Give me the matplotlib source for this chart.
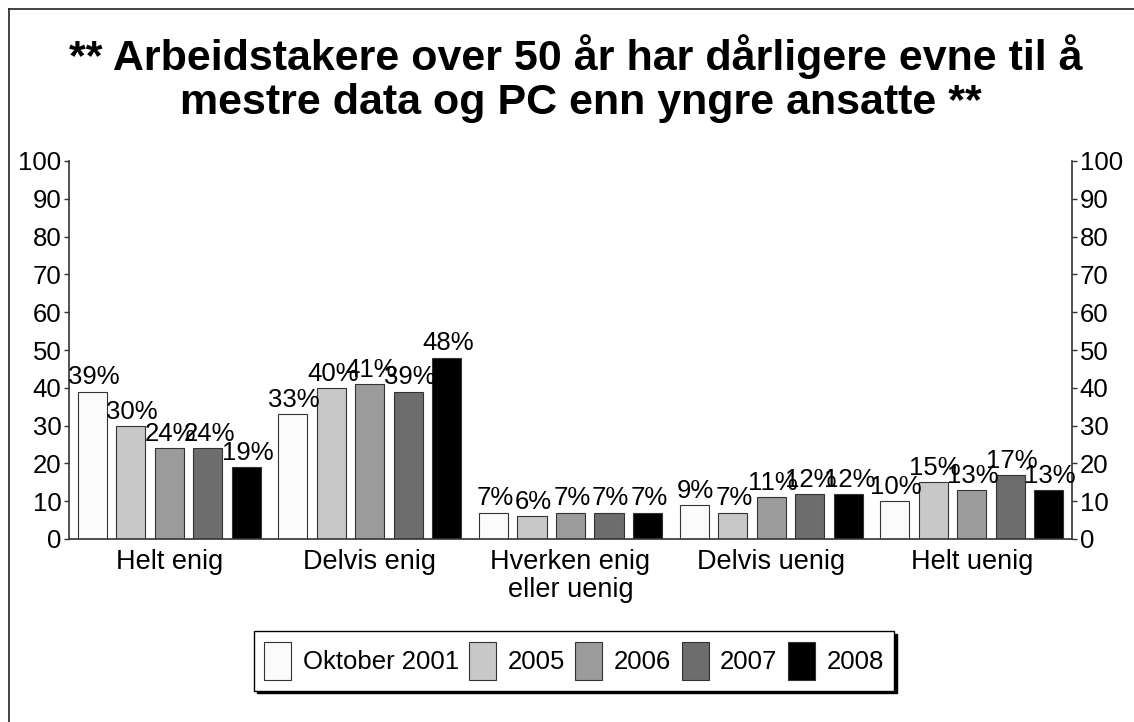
import matplotlib
matplotlib.use("Agg")
import matplotlib.pyplot as plt
from matplotlib.lines import Line2D
import numpy as np

plt.rcParams['font.family'] = ['Liberation Sans', 'DejaVu Sans']

# Survey answers and yearly shares (%)
categories = ["Helt enig", "Delvis enig", "Hverken enig\neller uenig", "Delvis uenig", "Helt uenig"]
series_names = ["Oktober 2001", "2005", "2006", "2007", "2008"]
oct_2001 = [39, 33, 7, 9, 10]
y2005 = [30, 40, 6, 7, 15]
y2006 = [24, 41, 7, 11, 13]
y2007 = [24, 39, 7, 12, 17]
y2008 = [19, 48, 7, 12, 13]
yticks = [0, 10, 20, 30, 40, 50, 60, 70, 80, 90, 100]
title_lines = ["** Arbeidstakere over 50 år har dårligere evne til å",
               "mestre data og PC enn yngre ansatte **"]

series = [oct_2001, y2005, y2006, y2007, y2008]
colors = ["#fbfbfb", "#c8c8c8", "#9b9b9b", "#6d6d6d", "#000000"]

W, H = 1134, 722
fig = plt.figure(figsize=(W / 100, H / 100), dpi=100)
fig.patch.set_facecolor("white")

# plot area in pixel coordinates
left_px, right_px, bottom_px, top_px = 69, 1072, 539, 161
ax = fig.add_axes([left_px / W, 1 - bottom_px / H,
                   (right_px - left_px) / W, (bottom_px - top_px) / H])

x = np.arange(len(categories)) + 0.5
pitch = 0.192
width = 0.145
n = len(series)
for i, (vals, name, col) in enumerate(zip(series, series_names, colors)):
    pos = x + (i - (n - 1) / 2) * pitch
    bars = ax.bar(pos, vals, width=width, color=col, edgecolor="#333333",
                  linewidth=0.8, label=name, zorder=2)
    for b, v in zip(bars, vals):
        ax.annotate(f"{v}%", (b.get_x() + b.get_width() / 2, v),
                    xytext=(1, 1.5), textcoords="offset points",
                    ha="center", va="bottom", fontsize=18.5, color="black",
                    zorder=3)

ax.set_xlim(0, len(categories))
ax.set_ylim(0, 100)
ax.set_yticks(yticks)
ax.set_xticks(x)
ax.set_xticklabels(categories, fontsize=19.5, linespacing=1.1)
ax.tick_params(axis="x", length=0, pad=7)
ax.tick_params(axis="y", direction="out", length=3.5, width=1, pad=2,
               labelsize=18.5, left=True, right=True, labelleft=True,
               labelright=True, color="#333333")

for side in ["left", "right", "bottom"]:
    ax.spines[side].set_color("#333333")
    ax.spines[side].set_linewidth(1.2)
ax.spines["top"].set_visible(False)
ax.patch.set_alpha(0)

# title, two centred lines
fig.text(0.508, 1 - 70 / H, title_lines[0], ha="center", va="baseline",
         fontsize=31, fontweight="bold")
fig.text(0.512, 1 - 114 / H, title_lines[1], ha="center", va="baseline",
         fontsize=31, fontweight="bold")

# legend with drop shadow
leg = fig.legend(loc="center", bbox_to_anchor=(574 / W, 1 - 661 / H), ncol=5,
                 fontsize=18.5, frameon=True, fancybox=False,
                 shadow={"color": "black", "alpha": 1.0},
                 handlelength=1.05, handleheight=1.95, handletextpad=0.45,
                 columnspacing=0.4, borderpad=0.4, borderaxespad=0)
leg.get_frame().set_edgecolor("black")
leg.get_frame().set_linewidth(1.0)

# outer frame lines (left and top)
fig.add_artist(Line2D([9 / W, 9 / W], [0, 1 - 9 / H], transform=fig.transFigure,
                      color="#222222", linewidth=1.2))
fig.add_artist(Line2D([9 / W, 1], [1 - 9 / H, 1 - 9 / H], transform=fig.transFigure,
                      color="#222222", linewidth=1.2))

fig.savefig("out.png", dpi=100, facecolor="white")
